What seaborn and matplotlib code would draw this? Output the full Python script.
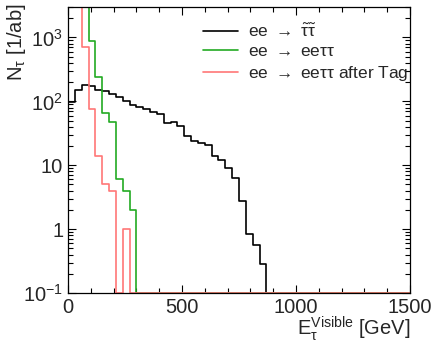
# ===============================================
# plot.py - visible tau energy spectra (log scale)
# ===============================================
import numpy as np
import pandas as pd
import matplotlib
matplotlib.use("Agg")
import matplotlib.pyplot as plt
import seaborn as sns
from matplotlib.ticker import FixedLocator, FixedFormatter, LogLocator, NullFormatter, MultipleLocator

# =============== DATA (30 GeV bins, 0-1500 GeV) ===============
bin_width = 30
n_bins = 50

# ee -> stau stau
stau_vals = [98, 152, 178, 171, 148, 143, 132, 117, 103, 88,
             83, 76, 67, 64, 46.5, 48, 41, 29, 24, 22,
             21, 14, 12.2, 9, 6.4, 2.8, 0.84, 0.57, 0.28]
# ee -> ee tau tau (first bins are off the top of the plot)
eett_vals = [20000, 9000, 4500, 890, 237, 66, 47, 6, 4, 2]
# ee -> ee tau tau after tag
eett_tag_vals = [9000, 4000, 700, 76, 14, 5, 4, 0, 1]

labels = [r"ee $\rightarrow$ $\tilde{\tau}\tilde{\tau}$",
          r"ee $\rightarrow$ ee$\tau\tau$",
          r"ee $\rightarrow$ ee$\tau\tau$ after Tag"]
colors = ["black", "#22aa22", "#ff7777"]

y_min, y_max = 0.1, 3000
x_min, x_max = 0, 1500

# =============== STYLE ===============
sns.set_theme(style="ticks")
plt.rcParams["font.family"] = ["Liberation Sans", "DejaVu Sans"]
plt.rcParams["mathtext.fontset"] = "custom"
plt.rcParams["mathtext.rm"] = "Liberation Sans"
plt.rcParams["mathtext.it"] = "Liberation Sans"
plt.rcParams["mathtext.bf"] = "Liberation Sans:bold"
plt.rcParams["mathtext.default"] = "regular"

edges = np.arange(n_bins + 1) * bin_width


def step_frame(vals, name):
    v = np.zeros(n_bins)
    v[:len(vals)] = vals
    v = np.maximum(v, y_min)  # empty bins drawn on the lower edge, ROOT style
    x = np.r_[edges[0], edges]
    y = np.r_[y_min, v, v[-1]]
    return pd.DataFrame({"E": x, "N": y, "sample": name})


fig = plt.figure(figsize=(4.36, 3.42), dpi=100)
ax = fig.add_axes([68 / 436, 1 - 293 / 342, 342 / 436, 286 / 342])

for vals, lab, col in zip([stau_vals, eett_vals, eett_tag_vals], labels, colors):
    df = step_frame(vals, lab)
    sns.lineplot(data=df, x="E", y="N", ax=ax, color=col, lw=1.2,
                 estimator=None, sort=False, drawstyle="steps-post", label=lab)

ax.set_yscale("log")
ax.set_xlim(x_min, x_max)
ax.set_ylim(y_min, y_max)

# =============== AXES / TICKS ===============
ax.xaxis.set_major_locator(MultipleLocator(500))
ax.xaxis.set_minor_locator(MultipleLocator(100))
ax.yaxis.set_major_locator(FixedLocator([0.1, 1, 10, 100, 1000]))
ax.yaxis.set_major_formatter(FixedFormatter([r"$10^{-1}$", "1", "10", r"$10^{2}$", r"$10^{3}$"]))
ax.yaxis.set_minor_locator(LogLocator(base=10, subs=np.arange(2, 10), numticks=20))
ax.yaxis.set_minor_formatter(NullFormatter())
ax.tick_params(which="both", direction="in", top=True, right=True, labelsize=14.5,
               width=0.8, color="black")
ax.tick_params(axis="x", pad=3.5)
ax.tick_params(which="major", length=6)
ax.tick_params(which="minor", length=3.5)
for sp in ax.spines.values():
    sp.set_linewidth(0.9)
    sp.set_color("black")

ax.set_xlabel(r"E$_{\tau}^{\mathrm{Visible}}$ [GeV]", fontsize=14.5, loc="right")
ax.xaxis.set_label_coords(1.0, -0.075)
ax.set_ylabel("")
fig.text(17 / 436, 1 - 4 / 342, r"N$_{\tau}$ [1/ab]", rotation=90, ha="center", va="top",
         fontsize=14.5)

leg = ax.legend(loc="upper left", bbox_to_anchor=(0.395, 0.945), frameon=False,
                fontsize=12.5, handlelength=2.0, handletextpad=0.6, labelspacing=0.25,
                borderpad=0, borderaxespad=0)

fig.savefig("out.png", dpi=100)
